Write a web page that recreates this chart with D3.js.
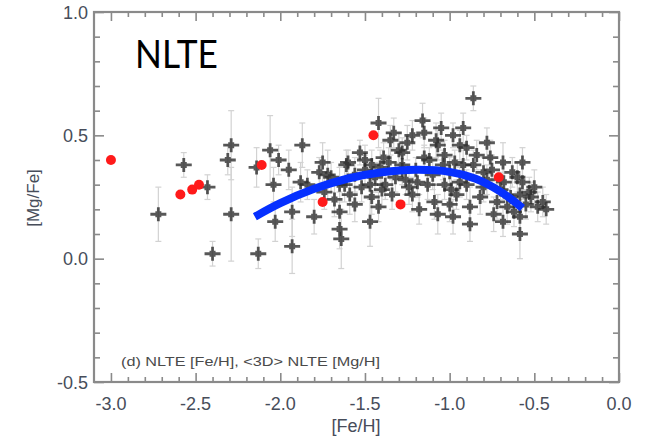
<!DOCTYPE html>
<html>
<head>
<meta charset="utf-8">
<script src="https://cdn.jsdelivr.net/npm/d3@7"></script>
<style>
  html, body { margin: 0; padding: 0; background: #fff; }
  svg { display: block; }
</style>
</head>
<body>
<svg id="chart" width="646" height="438"></svg>
<script>
// Axis ticks and their printed labels
const xTicks = [-3.0, -2.5, -2.0, -1.5, -1.0, -0.5, 0.0];
const xTickLabels = ["-3.0", "-2.5", "-2.0", "-1.5", "-1.0", "-0.5", "0.0"];
const yTicks = [-0.5, 0.0, 0.5, 1.0];
const yTickLabels = ["-0.5", "0.0", "0.5", "1.0"];

// Sample stars: [Fe/H], [Mg/Fe] and the [Mg/Fe] uncertainty
const starFeH = [
  -2.72, -2.57, -2.43, -2.40, -2.31, -2.29, -2.29, -2.13, -2.14, -2.06,
  -2.01, -1.95, -2.04, -1.87, -1.88, -1.84, -2.03, -1.93, -1.93, -1.80,
  -1.75, -1.77, -1.72, -1.74, -1.65, -1.65, -1.64, -1.61, -1.65, -1.42,
  -1.33, -1.35, -1.53, -1.25, -1.28, -1.16, -1.15, -1.05, -1.07, -1.60,
  -1.46, -1.41, -1.36, -1.62, -1.59, -1.47, -1.46, -1.47, -1.38, -1.32,
  -1.22, -1.19, -1.13, -1.09, -1.07, -1.03, -1.15, -1.03, -1.28, -0.86,
  -0.92, -0.98, -0.94, -0.90, -0.84, -0.97, -0.92, -0.76, -0.685, -0.57,
  -0.80, -0.63, -0.57, -0.50, -0.45, -0.48, -0.43, -0.585, -0.64, -0.685,
  -0.585, -0.585, -0.74, -0.88, -0.96, -0.98, -0.90, -0.80, -0.72, -0.66,
  -0.88, -1.28, -1.70, -1.56, -1.50, -1.44, -1.40, -1.34, -1.26, -1.20,
  -1.10, -1.00, -1.12, -1.30, -1.50, -1.56, -1.42, -1.18, -1.00, -0.94,
  -0.86, -0.78, -0.70, -0.60, -0.55, -0.52, -0.78, -1.08, -1.22, -0.82,
  -0.62, -1.52, -1.68, -1.04, -0.68, -0.53, -1.39, -1.24, -0.99, -0.75
];
const starMgFe = [
  0.18, 0.38, 0.29, 0.02, 0.40, 0.46, 0.18, 0.02, 0.37, 0.44,
  0.40, 0.36, 0.30, 0.46, 0.31, 0.30, 0.15, 0.19, 0.05, 0.17,
  0.39, 0.35, 0.34, 0.27, 0.19, 0.12, 0.08, 0.38, 0.30, 0.55,
  0.51, 0.48, 0.43, 0.47, 0.43, 0.56, 0.51, 0.53, 0.46, 0.39,
  0.38, 0.37, 0.39, 0.30, 0.26, 0.30, 0.25, 0.15, 0.30, 0.33,
  0.26, 0.31, 0.30, 0.23, 0.18, 0.30, 0.41, 0.42, 0.38, 0.65,
  0.53, 0.50, 0.46, 0.45, 0.42, 0.39, 0.38, 0.41, 0.39, 0.39,
  0.35, 0.35, 0.31, 0.29, 0.23, 0.21, 0.20, 0.26, 0.25, 0.15,
  0.10, 0.17, 0.18, 0.21, 0.26, 0.17, 0.30, 0.29, 0.23, 0.21,
  0.14, 0.36, 0.33, 0.34, 0.36, 0.33, 0.28, 0.26, 0.32, 0.36,
  0.34, 0.35, 0.40, 0.44, 0.40, 0.22, 0.21, 0.20, 0.22, 0.31,
  0.38, 0.32, 0.28, 0.33, 0.22, 0.25, 0.47, 0.48, 0.50, 0.25,
  0.19, 0.29, 0.24, 0.38, 0.31, 0.27, 0.41, 0.29, 0.28, 0.36
];
const starErr = [
  0.11, 0.05, 0.05, 0.05, 0.06, 0.14, 0.19, 0.06, 0.08, 0.14,
  0.06, 0.08, 0.07, 0.09, 0.08, 0.06, 0.08, 0.10, 0.11, 0.07,
  0.08, 0.06, 0.10, 0.07, 0.08, 0.08, 0.12, 0.06, 0.07, 0.10,
  0.06, 0.06, 0.05, 0.07, 0.06, 0.07, 0.06, 0.06, 0.06, 0.05,
  0.06, 0.07, 0.06, 0.07, 0.08, 0.06, 0.07, 0.10, 0.06, 0.06,
  0.07, 0.06, 0.06, 0.07, 0.08, 0.06, 0.05, 0.06, 0.06, 0.05,
  0.06, 0.05, 0.06, 0.05, 0.06, 0.05, 0.06, 0.07, 0.08, 0.06,
  0.06, 0.06, 0.07, 0.07, 0.06, 0.06, 0.06, 0.06, 0.06, 0.06,
  0.10, 0.06, 0.07, 0.08, 0.06, 0.07, 0.06, 0.06, 0.07, 0.07,
  0.07, 0.06, 0.06, 0.07, 0.06, 0.06, 0.07, 0.06, 0.06, 0.05,
  0.06, 0.06, 0.05, 0.07, 0.06, 0.07, 0.06, 0.06, 0.07, 0.06,
  0.06, 0.06, 0.07, 0.06, 0.06, 0.06, 0.06, 0.07, 0.06, 0.07,
  0.06, 0.06, 0.07, 0.06, 0.07, 0.06, 0.06, 0.07, 0.06, 0.06
];

// Highlighted stars (red)
const redFeH  = [-3.00, -2.59, -2.52, -2.48, -2.11, -1.75, -1.45, -1.29, -0.71];
const redMgFe = [ 0.40,  0.26,  0.28,  0.30,  0.38,  0.23,  0.50,  0.22,  0.33];

// Trend line through the sample (blue)
const trendFeH  = [-2.15, -2.00, -1.80, -1.60, -1.40, -1.20, -1.00, -0.85, -0.70, -0.57];
const trendMgFe = [ 0.170, 0.225, 0.283, 0.325, 0.350, 0.360, 0.352, 0.325, 0.272, 0.205];

const svg = d3.select("#chart");
const plotL = 94, plotR = 619, plotT = 12, plotB = 382;

const x = d3.scaleLinear().domain([-3.1, 0.0]).range([plotL, plotR]);
const y = d3.scaleLinear().domain([-0.5, 1.0]).range([plotB, plotT]);

const axisColor = "#8a8a8a";
const labelColor = "#474d5a";
const labelFont = "Liberation Sans, Arial, sans-serif";

// Minor tick positions every 0.1
const xMinor = d3.range(-30, 1).map(i => i / 10).filter(v => Math.abs(v * 2 - Math.round(v * 2)) > 1e-6);
const yMinor = d3.range(-5, 11).map(i => i / 10).filter(v => Math.abs(v * 2 - Math.round(v * 2)) > 1e-6);

function styleAxis(g) {
  g.select(".domain").remove();
  g.selectAll(".tick line").attr("stroke", axisColor).attr("stroke-width", 1.6);
  g.selectAll(".tick text").remove();
}

// Ticks on all four sides, pointing into the frame
svg.append("g").attr("transform", `translate(0,${plotB})`)
  .call(d3.axisBottom(x).tickValues(xTicks).tickSize(-9)).call(styleAxis);
svg.append("g").attr("transform", `translate(0,${plotB})`)
  .call(d3.axisBottom(x).tickValues(xMinor).tickSize(-5)).call(styleAxis);
svg.append("g").attr("transform", `translate(0,${plotT})`)
  .call(d3.axisTop(x).tickValues(xTicks).tickSize(-9)).call(styleAxis);
svg.append("g").attr("transform", `translate(0,${plotT})`)
  .call(d3.axisTop(x).tickValues(xMinor).tickSize(-5)).call(styleAxis);
svg.append("g").attr("transform", `translate(${plotL},0)`)
  .call(d3.axisLeft(y).tickValues(yTicks).tickSize(-10)).call(styleAxis);
svg.append("g").attr("transform", `translate(${plotL},0)`)
  .call(d3.axisLeft(y).tickValues(yMinor).tickSize(-6)).call(styleAxis);
svg.append("g").attr("transform", `translate(${plotR},0)`)
  .call(d3.axisRight(y).tickValues(yTicks).tickSize(-10)).call(styleAxis);
svg.append("g").attr("transform", `translate(${plotR},0)`)
  .call(d3.axisRight(y).tickValues(yMinor).tickSize(-6)).call(styleAxis);

// Frame
svg.append("rect")
  .attr("x", plotL).attr("y", plotT)
  .attr("width", plotR - plotL).attr("height", plotB - plotT)
  .attr("fill", "none").attr("stroke", axisColor).attr("stroke-width", 2.2);

// Tick labels
svg.append("g").selectAll("text").data(xTicks).join("text")
  .attr("x", d => x(d)).attr("y", 410)
  .attr("text-anchor", "middle")
  .attr("font-family", labelFont)
  .attr("font-size", 18).attr("fill", labelColor)
  .text((d, i) => xTickLabels[i]);

svg.append("g").selectAll("text").data(yTicks).join("text")
  .attr("x", 88).attr("y", d => y(d) + 6.5)
  .attr("text-anchor", "end")
  .attr("font-family", labelFont)
  .attr("font-size", 18).attr("fill", labelColor)
  .text((d, i) => yTickLabels[i]);

// Axis titles
svg.append("text")
  .attr("x", 356).attr("y", 432)
  .attr("text-anchor", "middle")
  .attr("font-family", labelFont)
  .attr("font-size", 18).attr("fill", labelColor)
  .text("[Fe/H]");

svg.append("text")
  .attr("transform", "translate(39,198) rotate(-90)")
  .attr("text-anchor", "middle")
  .attr("font-family", labelFont)
  .attr("font-size", 17).attr("fill", labelColor)
  .text("[Mg/Fe]");

// Panel caption
svg.append("text")
  .attr("x", 121).attr("y", 366)
  .attr("font-family", labelFont)
  .attr("font-size", 12).attr("fill", "#4a4a4a")
  .attr("textLength", 259).attr("lengthAdjust", "spacingAndGlyphs")
  .text("(d) NLTE [Fe/H], <3D> NLTE [Mg/H]");

// Big label
svg.append("text")
  .attr("x", 135).attr("y", 68)
  .attr("font-family", "Lato, 'Open Sans', sans-serif")
  .attr("font-size", 38).attr("fill", "#000")
  .attr("textLength", 83).attr("lengthAdjust", "spacingAndGlyphs")
  .text("NLTE");

const stars = starFeH.map((v, i) => ({ feh: v, mgfe: starMgFe[i], err: starErr[i] }));

// Error bars
const eb = svg.append("g").attr("stroke", "#d2d2d2").attr("stroke-width", 1.2);
eb.selectAll("line.v").data(stars).join("line").attr("class", "v")
  .attr("x1", d => x(d.feh)).attr("x2", d => x(d.feh))
  .attr("y1", d => y(d.mgfe + d.err)).attr("y2", d => y(d.mgfe - d.err));
eb.selectAll("line.t").data(stars).join("line").attr("class", "t")
  .attr("x1", d => x(d.feh) - 3).attr("x2", d => x(d.feh) + 3)
  .attr("y1", d => y(d.mgfe + d.err)).attr("y2", d => y(d.mgfe + d.err));
eb.selectAll("line.b").data(stars).join("line").attr("class", "b")
  .attr("x1", d => x(d.feh) - 3).attr("x2", d => x(d.feh) + 3)
  .attr("y1", d => y(d.mgfe - d.err)).attr("y2", d => y(d.mgfe - d.err));

// Plus-shaped star marker with a thick centre
const starPath =
  "M-8,-1.4 L-3,-1.4 L-3,-3 L-1.4,-3 L-1.4,-7 L1.4,-7 L1.4,-3 L3,-3 L3,-1.4 L8,-1.4 " +
  "L8,1.4 L3,1.4 L3,3 L1.4,3 L1.4,7 L-1.4,7 L-1.4,3 L-3,3 L-3,1.4 L-8,1.4 Z";
svg.append("g").selectAll("path").data(stars).join("path")
  .attr("d", starPath)
  .attr("transform", d => `translate(${x(d.feh)},${y(d.mgfe)})`)
  .attr("fill", "#2e2e2e").attr("fill-opacity", 0.8);

// Red points
const reds = redFeH.map((v, i) => ({ feh: v, mgfe: redMgFe[i] }));
svg.append("g").selectAll("circle").data(reds).join("circle")
  .attr("cx", d => x(d.feh)).attr("cy", d => y(d.mgfe)).attr("r", 5)
  .attr("fill", "#ff1a1a");

// Trend curve
const trend = trendFeH.map((v, i) => [v, trendMgFe[i]]);
svg.append("path")
  .datum(trend)
  .attr("d", d3.line().x(d => x(d[0])).y(d => y(d[1])).curve(d3.curveCatmullRom))
  .attr("fill", "none").attr("stroke", "#0630ff").attr("stroke-width", 8)
  .attr("stroke-linecap", "butt");
</script>
</body>
</html>
